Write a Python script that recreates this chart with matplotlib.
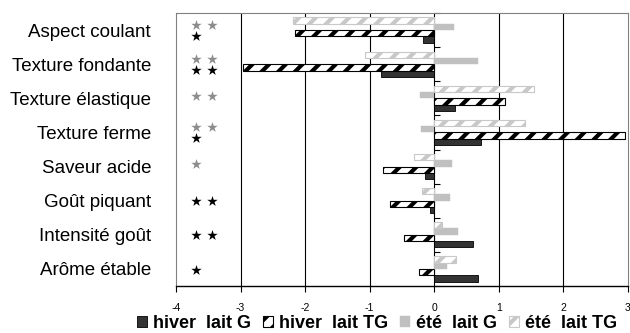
import matplotlib.pyplot as plt
import numpy as np

plt.rcParams['font.family'] = ['Liberation Sans', 'DejaVu Sans']
plt.rcParams['hatch.linewidth'] = 3.0

# données
attributs = ['Aspect coulant', 'Texture fondante', 'Texture élastique', 'Texture ferme',
             'Saveur acide', 'Goût piquant', 'Intensité goût', 'Arôme étable']
hiver_lait_G = [-0.17, -0.82, 0.32, 0.73, -0.14, -0.06, 0.60, 0.67]
hiver_lait_TG = [-2.16, -2.97, 1.09, 2.96, -0.80, -0.68, -0.47, -0.24]
ete_lait_G = [0.31, 0.68, -0.22, -0.20, 0.27, 0.25, 0.37, 0.20]
ete_lait_TG = [-2.19, -1.08, 1.54, 1.40, -0.31, -0.19, 0.12, 0.34]
# nombre d'étoiles (significativité) : été en gris, hiver en noir
etoiles_ete = [2, 2, 2, 2, 1, 0, 0, 0]
etoiles_hiver = [1, 2, 0, 1, 0, 2, 2, 1]
graduations = [-4, -3, -2, -1, 0, 1, 2, 3]

n = len(attributs)
y = np.arange(n)[::-1]
h = 0.185

fig = plt.figure(figsize=(6.3, 3.33), dpi=100)
ax = fig.add_axes([176/630, 1 - 286/333, 452/630, 273/333])

ax.barh(y - 1.5*h, hiver_lait_G, h, color='#333333', edgecolor='black', lw=0.6,
        label='hiver  lait G')
ax.barh(y - 0.5*h, hiver_lait_TG, h, color='white', edgecolor='black', hatch='//', lw=0.8,
        label='hiver  lait TG')
ax.barh(y + 0.5*h, ete_lait_G, h, color='#c0c0c0', edgecolor='#c0c0c0', lw=0.3,
        label='été  lait G')
ax.barh(y + 1.5*h, ete_lait_TG, h, color='white', edgecolor='#c8c8c8', hatch='//', lw=0.8,
        label='été  lait TG')

# étoiles
for i in range(n):
    ne, nh = etoiles_ete[i], etoiles_hiver[i]
    if ne and nh:
        ye, yh = y[i] + 0.16, y[i] - 0.17
    else:
        ye, yh = y[i] + 0.08, y[i] - 0.02
    for k in range(ne):
        ax.scatter(-3.69 + 0.24*k, ye, marker='*', s=62, color='#8c8c8c', lw=0, zorder=4)
    for k in range(nh):
        ax.scatter(-3.69 + 0.24*k, yh, marker='*', s=62, color='black', lw=0, zorder=4)

ax.set_xlim(-4, 3)
ax.set_ylim(-0.5, n - 0.5)
ax.set_xticks(graduations)
ax.set_xticklabels([str(g) for g in graduations], fontsize=7.5)
ax.tick_params(axis='x', length=4, width=0.8, pad=8, direction='out')

ax.set_yticks(y)
ax.set_yticklabels(attributs, fontsize=13.5)
ax.tick_params(axis='y', length=0, pad=18)

for g in graduations[1:-1]:
    if g != 0:
        ax.axvline(g, color='black', lw=0.8, zorder=0)

# axe vertical à zéro avec graduations entre catégories
axe0 = ax.secondary_yaxis(4/7)
axe0.set_yticks(np.arange(n + 1) - 0.5)
axe0.set_yticklabels([])
axe0.tick_params(length=4, width=0.8, direction='out')
axe0.spines['left'].set_linewidth(1.0)

ax.spines['bottom'].set_color('black')
ax.spines['bottom'].set_linewidth(1.0)
for s in ['left', 'top', 'right']:
    ax.spines[s].set_color('#808080')
    ax.spines[s].set_linewidth(0.8)

ax.legend(loc='upper center', bbox_to_anchor=(0.445, -0.078), ncol=4, frameon=False,
          prop={'weight': 'bold', 'size': 13}, handlelength=0.55, handleheight=0.55,
          handletextpad=0.3, columnspacing=0.7, borderaxespad=0)

fig.savefig('out.png', dpi=100)
